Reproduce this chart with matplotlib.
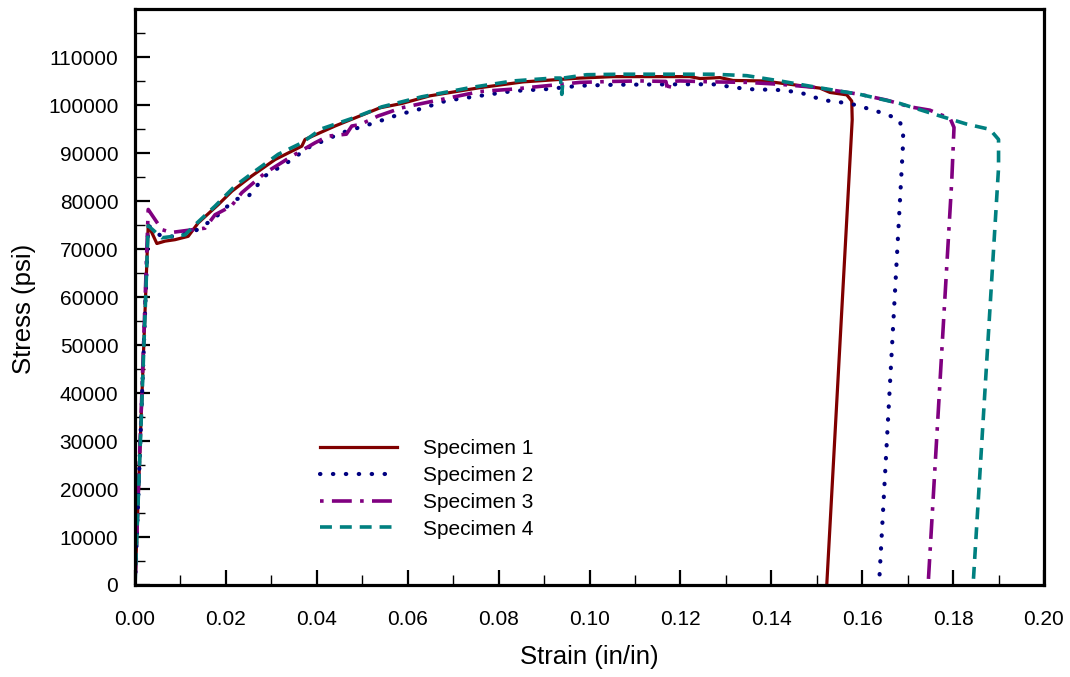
import matplotlib
matplotlib.use("Agg")
import matplotlib.pyplot as plt
from matplotlib.ticker import MultipleLocator, FormatStrFormatter

plt.rcParams['font.family'] = ['Liberation Sans', 'DejaVu Sans']

# strain (in/in) and stress (psi)
strain1 = [0.0, 0.0015, 0.0029, 0.0048, 0.0066, 0.0088, 0.0117, 0.0139, 0.0183, 0.0213,
           0.0257, 0.0308, 0.0367, 0.0374, 0.044, 0.0513, 0.0539, 0.0587, 0.0649, 0.0759,
           0.0854, 0.0979, 0.1052, 0.1221, 0.1243, 0.1287, 0.1316, 0.1382, 0.1441, 0.1507,
           0.1529, 0.1566, 0.1577, 0.1578, 0.1522]
stress1 = [0, 39000, 75100, 71200, 71700, 72000, 72700, 75500, 79300, 82100,
           85300, 88700, 91500, 92900, 95700, 98500, 99500, 100400, 102000, 103700,
           104900, 105700, 106000, 106000, 105600, 105800, 105200, 105100, 104400, 103600,
           102700, 102200, 100900, 97000, 0]

strain2 = [0.0, 0.0015, 0.0029, 0.0044, 0.0059, 0.0088, 0.0132, 0.0176, 0.0194, 0.0225,
           0.0249, 0.0286, 0.0334, 0.0381, 0.0455, 0.0528, 0.0587, 0.0612, 0.0686, 0.0759,
           0.0832, 0.0906, 0.0979, 0.1052, 0.1199, 0.1272, 0.1346, 0.1419, 0.1463, 0.1514,
           0.1573, 0.1625, 0.1654, 0.168, 0.169, 0.169, 0.1637]
stress2 = [0, 38500, 75000, 73800, 72600, 72700, 73800, 76500, 78300, 80500,
           81000, 85300, 88000, 91200, 94300, 96400, 98300, 98800, 101000, 102000,
           103000, 103400, 104100, 104300, 104400, 104400, 103400, 103200, 102700, 101100,
           100400, 99000, 98100, 97100, 95000, 92200, 0]

strain3 = [0.0, 0.0015, 0.0029, 0.0059, 0.008, 0.0128, 0.0154, 0.0176, 0.0212, 0.022,
           0.0235, 0.0286, 0.0345, 0.0396, 0.0425, 0.0465, 0.0477, 0.0495, 0.0535, 0.0587,
           0.0631, 0.0693, 0.0759, 0.0832, 0.0906, 0.0979, 0.1052, 0.1111, 0.1168, 0.1173,
           0.1178, 0.1199, 0.1272, 0.1346, 0.1419, 0.1492, 0.1595, 0.1654, 0.1705, 0.1749,
           0.1771, 0.1793, 0.1802, 0.1797, 0.1745]
stress3 = [0, 40000, 78300, 74100, 73500, 74100, 74400, 77200, 79000, 80000,
           81800, 85900, 89400, 92200, 93600, 94000, 95700, 96000, 97800, 99500,
           100400, 101600, 102900, 103400, 104100, 104800, 105000, 105100, 105000, 102800,
           105000, 105100, 104900, 104800, 104400, 103800, 102300, 101100, 99700, 99000,
           98100, 97400, 95400, 84200, 0]

strain4 = [0.0, 0.0015, 0.0029, 0.0059, 0.011, 0.0132, 0.0176, 0.022, 0.0264, 0.0315,
           0.0367, 0.041, 0.0484, 0.0543, 0.0631, 0.0737, 0.0832, 0.092, 0.0936, 0.0939,
           0.0942, 0.0994, 0.1067, 0.1272, 0.1346, 0.1419, 0.1492, 0.1536, 0.1595, 0.1683,
           0.1771, 0.183, 0.1881, 0.19, 0.19, 0.1844]
stress4 = [0, 38000, 74900, 72400, 73000, 75100, 79000, 83200, 86300, 89800,
           92200, 95100, 97500, 99700, 101800, 103700, 105100, 105700, 105700, 102300,
           105700, 106400, 106500, 106500, 106200, 105100, 103900, 103200, 102300, 100400,
           97800, 96100, 95000, 92900, 87000, 0]

labels = ['Specimen 1', 'Specimen 2', 'Specimen 3', 'Specimen 4']
colors = ['#800000', '#000080', '#800080', '#008080']

fig = plt.figure(figsize=(10.7, 6.77), dpi=100)
ax = fig.add_axes([0.1262, 0.1359, 0.8495, 0.8501])

lw = 2.3
ax.plot(strain1, stress1, color=colors[0], lw=lw, label=labels[0])
ax.plot(strain2, stress2, color=colors[1], lw=3.0, label=labels[1],
        linestyle=(0, (0.1, 3.0)), dash_capstyle='round')
ax.plot(strain3, stress3, color=colors[2], lw=lw + 0.3, label=labels[2],
        linestyle=(0, (1.0, 2.3, 5.5, 2.3)))
ax.plot(strain4, stress4, color=colors[3], lw=lw + 0.3, label=labels[3],
        linestyle=(0, (3.3, 2.2)))

ax.set_xlim(0, 0.20)
ax.set_ylim(0, 120000)
ax.xaxis.set_major_locator(MultipleLocator(0.02))
ax.xaxis.set_minor_locator(MultipleLocator(0.01))
ax.xaxis.set_major_formatter(FormatStrFormatter('%.2f'))
ax.yaxis.set_major_locator(MultipleLocator(10000))
ax.yaxis.set_minor_locator(MultipleLocator(5000))
ax.set_yticks(range(0, 120000, 10000))

ax.tick_params(which='both', direction='in', top=False, right=False, labelsize=15)
ax.tick_params(which='major', length=11, width=1.6)
ax.tick_params(which='minor', length=7.5, width=1.0)
ax.tick_params(axis='x', pad=18)
ax.tick_params(axis='y', pad=12)
for s in ax.spines.values():
    s.set_linewidth(2.3)

ax.set_xlabel('Strain (in/in)', fontsize=18.5)
ax.set_ylabel('Stress (psi)', fontsize=18.5)
ax.xaxis.set_label_coords(0.5, -0.104)
ax.yaxis.set_label_coords(-0.109, 0.48)

ax.legend(loc='center left', bbox_to_anchor=(0.2035, 0.167), frameon=False,
          fontsize=15, handlelength=3.7, handletextpad=1.25, labelspacing=0.38,
          borderpad=0, borderaxespad=0)

fig.savefig('out.png', dpi=100)
